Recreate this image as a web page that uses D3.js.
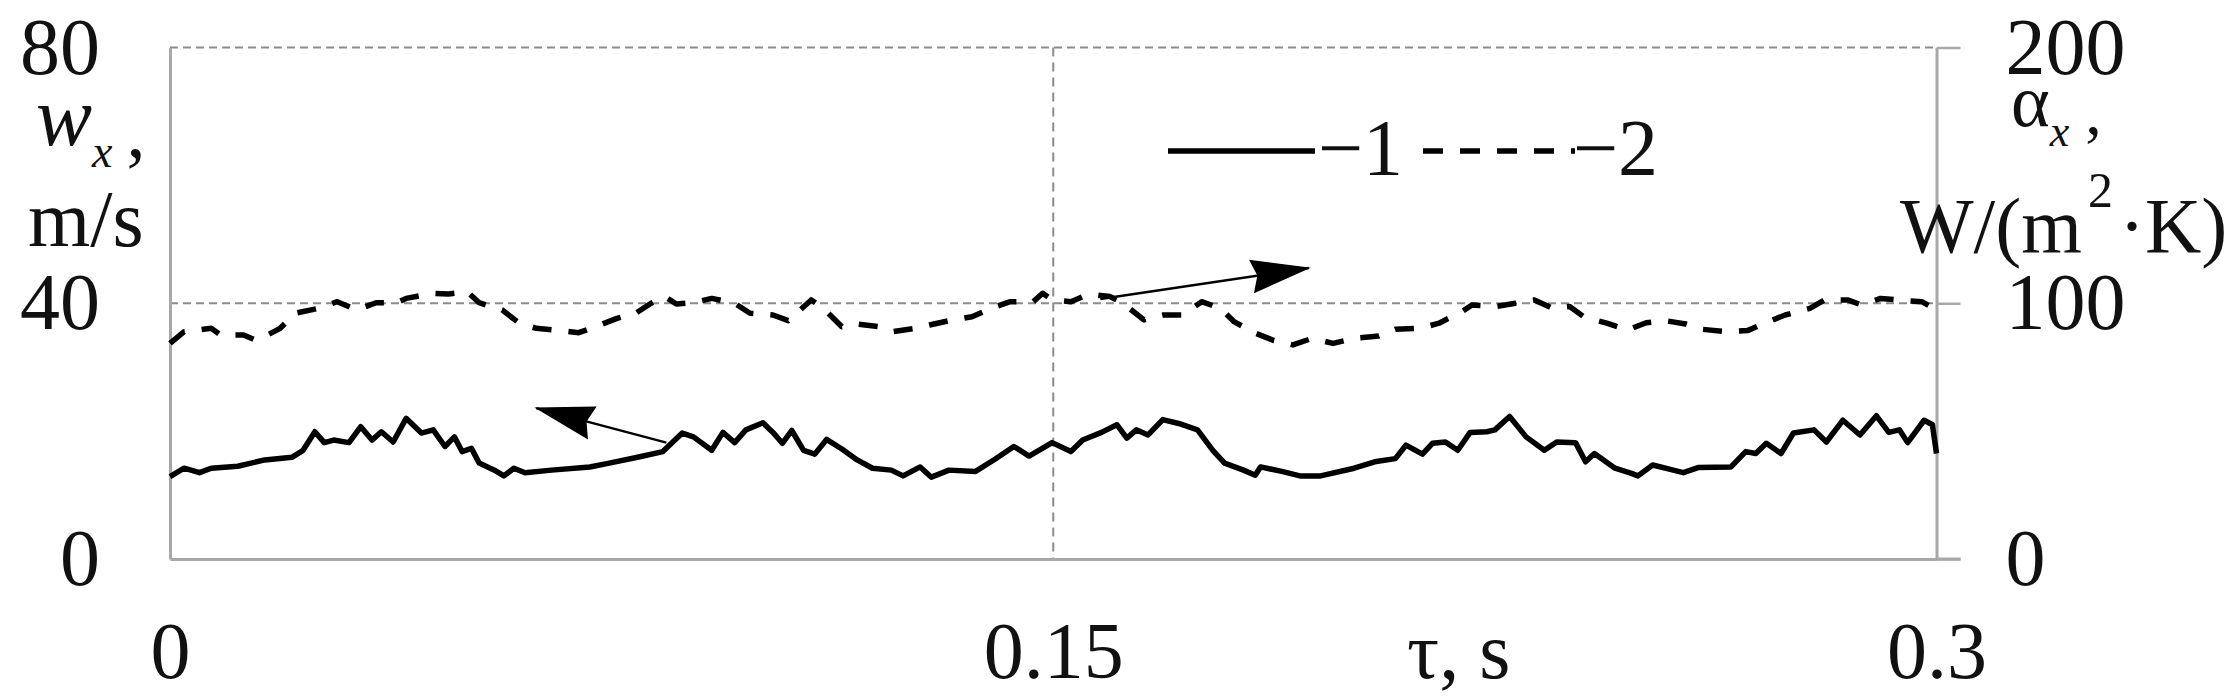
<!DOCTYPE html>
<html><head><meta charset="utf-8">
<script src="https://cdn.jsdelivr.net/npm/d3@7/dist/d3.min.js"></script>
<style>
html,body{margin:0;padding:0;background:#fff;}
svg{display:block;}
text{font-family:"Liberation Serif","Times New Roman",serif;fill:#111;}
</style></head>
<body>
<svg id="chart" width="2240" height="700"></svg>
<script>
// ---- Data ----
const xTicks = [0, 0.15, 0.3];
const xTickLabels = ["0", "0.15", "0.3"];
const leftTicks = [0, 40, 80];
const rightTicks = [0, 100, 200];
const gridLeft = [40, 80];
const gridX = [0.15];

// Series 1: w_x, m/s (left axis)
const tau1 = [0.0000,0.0024,0.0050,0.0070,0.0115,0.0161,0.0207,0.0226,0.0246,0.0262,0.0278,0.0304,0.0324,0.0343,0.0359,0.0379,0.0401,0.0427,0.0447,0.0467,0.0483,0.0496,0.0512,0.0525,0.0551,0.0567,0.0584,0.0603,0.0648,0.0713,0.0746,0.0798,0.0837,0.0870,0.0889,0.0920,0.0939,0.0959,0.0978,0.1007,0.1024,0.1040,0.1056,0.1076,0.1095,0.1115,0.1141,0.1167,0.1193,0.1225,0.1245,0.1274,0.1293,0.1323,0.1368,0.1401,0.1433,0.1459,0.1498,0.1530,0.1550,0.1582,0.1608,0.1625,0.1641,0.1661,0.1686,0.1713,0.1745,0.1771,0.1791,0.1823,0.1843,0.1852,0.1888,0.1919,0.1954,0.2011,0.2046,0.2081,0.2099,0.2127,0.2144,0.2166,0.2187,0.2208,0.2236,0.2250,0.2275,0.2303,0.2334,0.2355,0.2387,0.2404,0.2419,0.2454,0.2482,0.2493,0.2518,0.2553,0.2570,0.2595,0.2651,0.2676,0.2693,0.2711,0.2736,0.2757,0.2792,0.2813,0.2841,0.2870,0.2898,0.2919,0.2937,0.2951,0.2979,0.2993,0.3000];
const w1 = [12.9,14.2,13.5,14.2,14.5,15.5,15.9,17.0,19.9,18.2,18.6,18.2,20.7,18.6,19.9,18.3,22.0,19.7,20.2,17.6,19.1,16.8,17.3,15.0,13.9,13.0,14.2,13.5,13.9,14.4,15.0,16.0,16.8,19.7,19.1,17.0,19.8,18.2,20.2,21.3,19.8,18.1,20.1,17.0,16.4,18.7,17.2,15.5,14.2,13.9,13.0,14.4,12.8,13.9,13.7,15.6,17.6,16.1,18.2,16.8,18.6,19.8,21.0,18.9,20.2,19.4,21.8,21.2,20.2,17.0,15.0,13.9,13.1,14.4,13.7,13.0,13.0,14.2,15.2,15.7,17.8,16.4,18.1,18.3,17.0,19.8,19.9,20.2,22.3,19.1,17.0,18.3,18.2,15.2,16.5,14.2,13.4,13.0,14.7,13.9,13.5,14.3,14.4,16.8,16.5,18.1,16.5,19.7,20.2,18.3,21.7,19.4,22.4,19.8,20.2,18.2,21.7,21.0,16.5];

// Series 2: alpha_x, W/(m2·K) (right axis)
const tau2 = [0.0000,0.0024,0.0070,0.0086,0.0125,0.0145,0.0158,0.0187,0.0213,0.0252,0.0284,0.0317,0.0350,0.0385,0.0401,0.0447,0.0473,0.0505,0.0525,0.0564,0.0593,0.0622,0.0655,0.0694,0.0720,0.0759,0.0791,0.0817,0.0840,0.0860,0.0889,0.0920,0.0959,0.0985,0.1024,0.1050,0.1089,0.1108,0.1141,0.1167,0.1206,0.1228,0.1267,0.1290,0.1323,0.1362,0.1394,0.1427,0.1466,0.1482,0.1498,0.1530,0.1560,0.1596,0.1615,0.1654,0.1687,0.1719,0.1752,0.1784,0.1807,0.1843,0.1875,0.1907,0.1940,0.1975,0.2011,0.2053,0.2081,0.2123,0.2155,0.2194,0.2211,0.2250,0.2285,0.2317,0.2348,0.2377,0.2401,0.2440,0.2475,0.2507,0.2539,0.2574,0.2603,0.2644,0.2679,0.2708,0.2743,0.2785,0.2810,0.2849,0.2873,0.2905,0.2933,0.2975,0.3000];
const alpha2 = [84.3,88.9,90.2,87.6,87.6,85.6,86.7,90.2,96.1,98.0,100.6,97.4,100.2,100.2,101.9,103.9,103.6,104.5,100.2,97.4,92.2,90.2,89.5,88.5,90.6,94.1,96.1,100.0,102.6,99.7,100.2,101.9,100.0,96.1,95.4,93.2,101.3,98.4,90.8,91.9,90.8,88.9,90.2,91.5,93.2,94.7,98.0,100.6,100.6,103.9,101.3,100.6,103.6,102.6,100.6,93.5,95.4,95.4,100.6,98.0,92.8,88.3,85.4,83.7,86.3,84.3,86.3,87.2,89.8,90.2,92.2,96.7,99.3,98.7,100.0,101.3,98.0,98.7,94.7,92.2,89.5,92.4,93.2,91.9,89.8,88.9,89.3,92.2,95.4,98.0,101.3,101.3,99.3,101.9,101.3,100.6,97.4];

// Annotation arrows (data units): [tauFrom, valFrom, tauTo, valTo]
const arrow1 = [0.1580, 101.7, 0.1934, 113.8]; // right axis (series 2)
const arrow2 = [0.0843, 18.2, 0.0622, 23.6];   // left axis (series 1)

// ---- Layout ----
const L = 170, R = 1936.5, T = 47.5, B = 559;
const svg = d3.select("#chart");
const x = d3.scaleLinear().domain([0, 0.3]).range([L, R]);
const yL = d3.scaleLinear().domain([0, 80]).range([B, T]);
const yR = d3.scaleLinear().domain([0, 200]).range([B, T]);

const gridColor = "#8c8c8c";
const axisColor = "#a8a8a8";

// gridlines
svg.append("g").selectAll("line").data(gridLeft).join("line")
  .attr("x1", L).attr("x2", R).attr("y1", d => yL(d)).attr("y2", d => yL(d))
  .attr("stroke", gridColor).attr("stroke-width", 2).attr("stroke-dasharray", "8,5");
svg.append("g").selectAll("line").data(gridX).join("line")
  .attr("x1", d => x(d)).attr("x2", d => x(d)).attr("y1", T).attr("y2", B)
  .attr("stroke", gridColor).attr("stroke-width", 2).attr("stroke-dasharray", "9,6");

// axes
const fontSize = 80;
const gL = svg.append("g").attr("transform", `translate(${L},0)`)
  .call(d3.axisLeft(yL).tickValues(leftTicks).tickSize(0).tickPadding(70).tickFormat(d3.format("d")));
gL.select(".domain").attr("stroke", axisColor).attr("stroke-width", 3);
gL.selectAll("text").style("font-size", fontSize + "px").attr("fill", "#111");

const gR = svg.append("g").attr("transform", `translate(${R},0)`)
  .call(d3.axisRight(yR).tickValues(rightTicks).tickSize(24).tickSizeOuter(0).tickPadding(45).tickFormat(d3.format("d")));
gR.select(".domain").attr("stroke", axisColor).attr("stroke-width", 3);
gR.selectAll(".tick line").attr("stroke", axisColor).attr("stroke-width", 2.5);
gR.selectAll("text").style("font-size", fontSize + "px").attr("fill", "#111");

const gB = svg.append("g").attr("transform", `translate(0,${B})`)
  .call(d3.axisBottom(x).tickValues(xTicks).tickSize(0).tickPadding(0).tickFormat((d, i) => xTickLabels[i]));
gB.select(".domain").attr("stroke", axisColor).attr("stroke-width", 3);
gB.selectAll("text").style("font-size", fontSize + "px").attr("fill", "#111")
  .attr("y", 119).attr("dy", 0);
svg.append("line").attr("x1", R).attr("x2", R + 24).attr("y1", B).attr("y2", B)
  .attr("stroke", axisColor).attr("stroke-width", 3);

// series
const line1 = d3.line().x((d, i) => x(tau1[i])).y(d => yL(d));
svg.append("path").datum(w1).attr("d", line1)
  .attr("fill", "none").attr("stroke", "#000").attr("stroke-width", 5.5)
  .attr("stroke-linejoin", "round");
const line2 = d3.line().x((d, i) => x(tau2[i])).y(d => yR(d));
svg.append("path").datum(alpha2).attr("d", line2)
  .attr("fill", "none").attr("stroke", "#000").attr("stroke-width", 5.5)
  .attr("stroke-dasharray", "19,17").attr("stroke-linejoin", "round");

// arrows
const defs = svg.append("defs");
defs.append("marker").attr("id", "ah").attr("markerUnits", "userSpaceOnUse")
  .attr("markerWidth", 62).attr("markerHeight", 38).attr("refX", 58).attr("refY", 19)
  .attr("orient", "auto")
  .append("path").attr("d", "M0,2 L60,19 L0,36 L6,19 Z").attr("fill", "#000");
svg.append("line")
  .attr("x1", x(arrow1[0])).attr("y1", yR(arrow1[1])).attr("x2", x(arrow1[2])).attr("y2", yR(arrow1[3]))
  .attr("stroke", "#000").attr("stroke-width", 2.5).attr("marker-end", "url(#ah)");
svg.append("line")
  .attr("x1", x(arrow2[0])).attr("y1", yL(arrow2[1])).attr("x2", x(arrow2[2])).attr("y2", yL(arrow2[3]))
  .attr("stroke", "#000").attr("stroke-width", 2.5).attr("marker-end", "url(#ah)");

// legend
svg.append("line").attr("x1", 1168).attr("x2", 1315).attr("y1", 151).attr("y2", 151)
  .attr("stroke", "#000").attr("stroke-width", 5.5);
svg.append("text").attr("x", 1318).attr("y", 175).style("font-size", "80px").text("\u22121");
svg.append("line").attr("x1", 1423).attr("x2", 1575).attr("y1", 151).attr("y2", 151)
  .attr("stroke", "#000").attr("stroke-width", 5.5).attr("stroke-dasharray", "20,17");
svg.append("text").attr("x", 1573).attr("y", 175).style("font-size", "80px").text("\u22122");

// axis titles
const tl = svg.append("text").attr("x", 36).attr("y", 145).style("font-size", "84px");
tl.append("tspan").style("font-style", "italic").text("w");
tl.append("tspan").attr("dy", 22).style("font-style", "italic").style("font-size", "46px").text("x");
tl.append("tspan").attr("dx", 14).attr("dy", -10).style("font-size", "76px").text(",");
svg.append("text").attr("x", 28).attr("y", 246).style("font-size", "80px").text("m/s");

svg.append("text").attr("x", 1407).attr("y", 678).style("font-size", "80px").text("τ, s");

const tr = svg.append("text").attr("x", 2011).attr("y", 126).style("font-size", "74px");
tr.append("tspan").text("α");
tr.append("tspan").attr("dy", 20).style("font-style", "italic").style("font-size", "44px").text("x");
tr.append("tspan").attr("dx", 16).attr("dy", -12).style("font-size", "66px").text(",");
const tu = svg.append("text").attr("x", 1900).attr("y", 252).style("font-size", "78px");
tu.append("tspan").text("W/(m");
tu.append("tspan").attr("dx", 6).attr("dy", -45).style("font-size", "50px").text("2");
tu.append("tspan").attr("dx", 6).attr("dy", 45).text("·K)");
</script>
</body></html>
